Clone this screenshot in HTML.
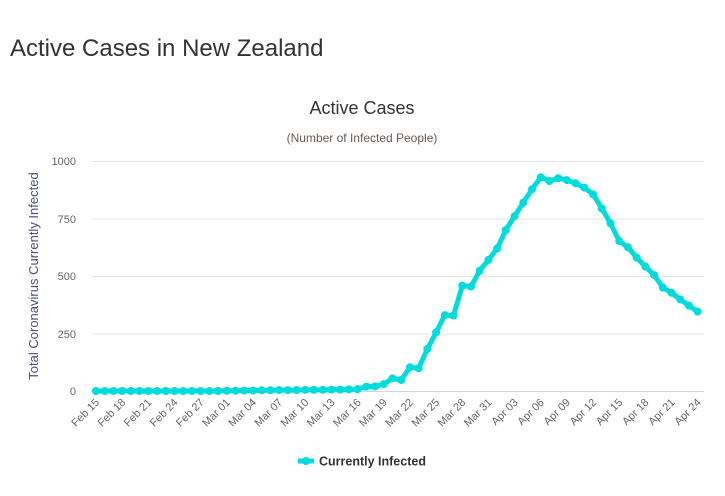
<!DOCTYPE html>
<html><head><meta charset="utf-8"><style>
html,body{margin:0;padding:0;background:#fff;width:725px;height:496px;overflow:hidden}
svg{display:block;font-family:"Liberation Sans",sans-serif}
</style></head><body>
<svg id="s" width="725" height="496" viewBox="0 0 725 496" xmlns="http://www.w3.org/2000/svg">
<text x="10" y="56" font-size="24" fill="#333">Active Cases in New Zealand</text>
<text x="362" y="114" font-size="18" fill="#333" text-anchor="middle">Active Cases</text>
<text x="362" y="142" font-size="12" fill="#6b5a50" text-anchor="middle">(Number of Infected People)</text>
<text transform="translate(38,276) rotate(-90)" font-size="13" fill="#4d4d80" text-anchor="middle">Total Coronavirus Currently Infected</text>
<g stroke="#e6e6e6" stroke-width="1">
<line x1="92" y1="161.5" x2="704" y2="161.5"/>
<line x1="92" y1="219" x2="704" y2="219"/>
<line x1="92" y1="276.5" x2="704" y2="276.5"/>
<line x1="92" y1="334" x2="704" y2="334"/>
</g>
<line x1="92" y1="391.5" x2="704" y2="391.5" stroke="#ccd6eb"/>
<g font-size="11" fill="#666" text-anchor="end">
<text x="76" y="165">1000</text>
<text x="76" y="223">750</text>
<text x="76" y="280">500</text>
<text x="76" y="338">250</text>
<text x="76" y="395">0</text>
</g>
<g id="xl" font-size="11" fill="#666" text-anchor="end"></g>
<polyline id="ln" fill="none" stroke="#00dcdc" stroke-width="5" stroke-linejoin="round"/>
<g id="pts" fill="#00dcdc"></g>
<line x1="298" y1="461" x2="314" y2="461" stroke="#00dcdc" stroke-width="5"/>
<circle cx="306" cy="461" r="4" fill="#00dcdc"/>
<text x="319" y="465.5" font-size="12.5" font-weight="bold" fill="#333">Currently Infected</text>
</svg>
<script>
var v=[0,0,0,0,0,0,0,0,0,0,0,0,0,0,0,1,1,2,2,3,3,4,4,4,5,5,5,6,6,7,8,19,20,30,55,48,103,99,183,255,330,328,458,454,523,570,620,700,760,819,877,929,913,925,917,903,884,855,794,729,652,625,580,541,504,450,427,398,371,345];
var labels=["Feb 15","Feb 18","Feb 21","Feb 24","Feb 27","Mar 01","Mar 04","Mar 07","Mar 10","Mar 13","Mar 16","Mar 19","Mar 22","Mar 25","Mar 28","Mar 31","Apr 03","Apr 06","Apr 09","Apr 12","Apr 15","Apr 18","Apr 21","Apr 24"];
var NS="http://www.w3.org/2000/svg",step=(697.7-96)/69,pts=[],g=document.getElementById("pts");
for(var i=0;i<v.length;i++){var x=96+step*i,y=391-v[i]*0.23;pts.push(x.toFixed(1)+","+y.toFixed(1));
var c=document.createElementNS(NS,"circle");c.setAttribute("cx",x);c.setAttribute("cy",y);c.setAttribute("r",4);g.appendChild(c);}
document.getElementById("ln").setAttribute("points",pts.join(" "));
var xl=document.getElementById("xl");
for(var j=0;j<labels.length;j++){var x=96+step*3*j+4;var t=document.createElementNS(NS,"text");
t.setAttribute("transform","translate("+x+",403) rotate(-45)");t.textContent=labels[j];xl.appendChild(t);}
</script>
</body></html>
